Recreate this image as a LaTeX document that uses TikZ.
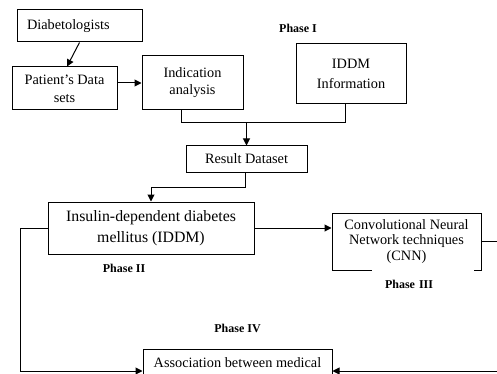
\documentclass[tikz,border=0pt]{standalone}
\usepackage{fontspec}
\setmainfont{Liberation Serif}
\usetikzlibrary{arrows.meta}

\begin{document}
\begin{tikzpicture}[x=1pt, y=-1pt,
    box/.style={draw, rectangle, line width=1pt, inner sep=2pt, align=center,
      font=\fontsize{14.3}{17}\selectfont},
    phase/.style={font=\fontsize{12}{14}\selectfont\bfseries},
    link/.style={line width=1pt},
    arr/.style={link, -{Triangle[length=7pt, width=7pt]}}]
  \path[use as bounding box, clip] (0,0) rectangle (497,374);

  \node[box, minimum width=125, minimum height=32, text width=105, align=left, inner xsep=10] (diab) at (79.5,26) {Diabetologists};
  \node[box, minimum width=105, minimum height=43, font=\fontsize{14.3}{18}\selectfont] (pat) at (64.5,88.5) {Patient’s Data\\sets};
  \node[box, minimum width=101, minimum height=54] (ind) at (192.5,83) {Indication\\analysis};
  \node[box, minimum width=110, minimum height=60, font=\fontsize{14.3}{20}\selectfont] (info) at (351,74) {IDDM\\Information};
  \node[phase] (ph1) at (298,28) {Phase I};
  \node[box, minimum width=121, minimum height=26] (res) at (246.5,159) {Result Dataset};
  \node[box, minimum width=206, minimum height=52, font=\fontsize{15.8}{21}\selectfont] (iddm) at (151,228) {Insulin-dependent diabetes\\mellitus (IDDM)};
  \node[box, minimum width=149, minimum height=57, font=\fontsize{14.3}{15.5}\selectfont] (cnn) at (406.5,241.5) {Convolutional Neural\\Network techniques\\(CNN)};
  \node[phase] (ph2) at (124,268) {Phase II};
  \node[phase, fill=white, minimum width=102, minimum height=30, text width=76, inner xsep=13, align=left] (ph3) at (423,284) {Phase III};
  \node[phase] (ph4) at (237.5,328) {Phase IV};
  \node[box, minimum width=189, minimum height=28] (assoc) at (237.5,363) {Association between medical};

  \coordinate (j1) at (246.5,123);
  \coordinate (c1) at (20,371);
  \coordinate (c2) at (505,371);

  \draw[arr] (diab.south) -- ([xshift=2.5]pat.north);
  \draw[arr] (pat.east |- ind.west) -- (ind.west);
  \draw[link] ([xshift=-11.5]ind.south) |- (j1);
  \draw[link] ([xshift=-6]info.south) |- (j1);
  \draw[arr] (j1) -- (res.north);
  \draw[arr] ([xshift=-1.5]res.south) -- ++(0,15) -| (iddm.north);
  \draw[arr] (iddm.east) -- (iddm.east -| cnn.west);
  \draw[arr] (iddm.west) -| (c1) -- (c1 -| assoc.west);
  \draw[arr] (cnn.east) -| (c2) -- (c2 -| assoc.east);
\end{tikzpicture}
\end{document}
